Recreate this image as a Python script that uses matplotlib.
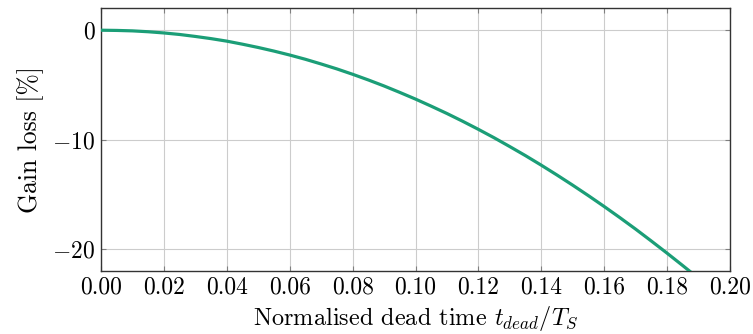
import matplotlib
matplotlib.use("Agg")
import matplotlib.pyplot as plt

plt.rcParams.update({
    "font.family": "serif",
    "font.serif": ["cmr10"],
    "mathtext.fontset": "cm",
    "axes.formatter.use_mathtext": True,
    "font.size": 17,
})

# Normalised dead time and the resulting gain loss
dead_time = [0.000, 0.005, 0.010, 0.015, 0.020, 0.025, 0.030, 0.035, 0.040, 0.045,
             0.050, 0.055, 0.060, 0.065, 0.070, 0.075, 0.080, 0.085, 0.090, 0.095,
             0.100, 0.105, 0.110, 0.115, 0.120, 0.125, 0.130, 0.135, 0.140, 0.145,
             0.150, 0.155, 0.160, 0.165, 0.170, 0.175, 0.180, 0.185, 0.190]
gain_loss = [0.0, -0.02, -0.06, -0.14, -0.25, -0.39, -0.57, -0.77, -1.0, -1.28,
             -1.58, -1.91, -2.27, -2.66, -3.09, -3.54, -4.03, -4.55, -5.1, -5.69,
             -6.3, -6.95, -7.62, -8.33, -9.07, -9.84, -10.65, -11.48, -12.35, -13.25,
             -14.18, -15.14, -16.13, -17.15, -18.2, -19.29, -20.4, -21.54, -22.7]

x_ticks = [0.00, 0.02, 0.04, 0.06, 0.08, 0.10, 0.12, 0.14, 0.16, 0.18, 0.20]
y_ticks = [-20, -10, 0]

fig = plt.figure(figsize=(7.53, 3.34), dpi=100)
ax = fig.add_axes([0.1341, 0.1895, 0.9695 - 0.1341, 0.975 - 0.1895])

ax.plot(dead_time, gain_loss, color="#1b9e77", lw=2.3, solid_capstyle="butt",
        solid_joinstyle="round", zorder=3)

ax.set_xlim(0, 0.2)
ax.set_ylim(-22, 2)
ax.set_xticks(x_ticks)
ax.set_xticklabels([f"{v:.2f}" for v in x_ticks])
ax.set_yticks(y_ticks)
ax.grid(True, color="#cccccc", lw=0.8)
ax.set_axisbelow(True)

ax.tick_params(direction="in", length=3.5, width=0.8, color="#7f7f7f",
               top=True, right=True, labelsize=17, pad=4)
for s in ax.spines.values():
    s.set_color("#333333")
    s.set_linewidth(1.0)

ax.set_xlabel(r"Normalised dead time $t_{dead}/T_S$", fontsize=17.5, labelpad=4)
ax.set_ylabel("Gain loss [%]", fontsize=18.5, labelpad=6)

fig.savefig("out.png", dpi=100)
